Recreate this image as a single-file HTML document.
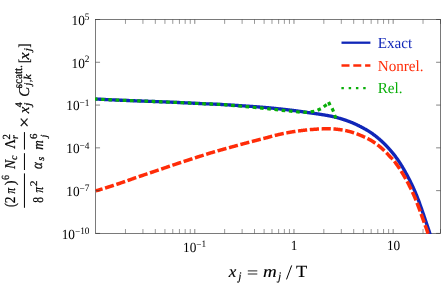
<!DOCTYPE html>
<html><head><meta charset="utf-8"><title>plot</title>
<style>html,body{margin:0;padding:0;background:#fff;}body{width:445px;height:284px;position:relative;overflow:hidden;font-family:"Liberation Serif",serif;}</style>
</head><body>
<svg width="445" height="284" viewBox="0 0 445 284" style="position:absolute;left:0;top:0;will-change:transform;text-rendering:geometricPrecision;font-family:'Liberation Serif',serif">
<defs><clipPath id="c"><rect x="95.05000000000001" y="18.9" width="346.05" height="215.11999999999998"/></clipPath></defs>
<rect x="0" y="0" width="445" height="284" fill="#fff"/>
<rect x="95.65" y="19.5" width="344.85" height="213.92" fill="none" stroke="#333" stroke-width="0.65"/>
<g clip-path="url(#c)" fill="none" stroke-linejoin="round">
<path d="M95.83 99.01 L96.04 99.02 L96.30 99.04 L96.60 99.05 L96.94 99.07 L97.32 99.09 L97.71 99.12 L98.09 99.14 L98.48 99.16 L98.86 99.18 L99.24 99.20 L99.63 99.23 L100.01 99.25 L100.40 99.27 L100.78 99.29 L101.16 99.31 L101.55 99.33 L101.93 99.35 L102.32 99.37 L102.70 99.39 L103.09 99.41 L103.47 99.43 L103.85 99.45 L104.24 99.47 L104.62 99.49 L105.01 99.51 L105.39 99.53 L105.77 99.55 L106.16 99.57 L106.54 99.59 L106.93 99.61 L107.31 99.63 L107.70 99.64 L108.08 99.66 L108.46 99.68 L108.85 99.70 L109.23 99.72 L109.62 99.74 L110.00 99.75 L110.38 99.77 L110.77 99.79 L111.15 99.81 L111.54 99.83 L111.92 99.84 L112.31 99.86 L112.69 99.88 L113.07 99.90 L113.46 99.91 L113.84 99.93 L114.23 99.95 L114.61 99.96 L114.99 99.98 L115.38 100.00 L115.76 100.01 L116.15 100.03 L116.53 100.05 L116.92 100.06 L117.30 100.08 L117.68 100.10 L118.07 100.11 L118.45 100.13 L118.84 100.15 L119.22 100.16 L119.61 100.18 L119.99 100.19 L120.37 100.21 L120.76 100.23 L121.14 100.24 L121.53 100.26 L121.91 100.27 L122.29 100.29 L122.68 100.31 L123.06 100.32 L123.45 100.34 L123.83 100.35 L124.22 100.37 L124.60 100.38 L124.98 100.40 L125.37 100.41 L125.75 100.43 L126.14 100.44 L126.52 100.46 L126.90 100.47 L127.29 100.49 L127.67 100.50 L128.06 100.52 L128.44 100.53 L128.83 100.55 L129.21 100.56 L129.59 100.58 L129.98 100.59 L130.36 100.61 L130.75 100.62 L131.13 100.64 L131.51 100.65 L131.90 100.67 L132.28 100.68 L132.67 100.70 L133.05 100.71 L133.44 100.73 L133.82 100.74 L134.20 100.75 L134.59 100.77 L134.97 100.78 L135.36 100.80 L135.74 100.81 L136.12 100.83 L136.51 100.84 L136.89 100.86 L137.28 100.87 L137.66 100.88 L138.05 100.90 L138.43 100.91 L138.81 100.93 L139.20 100.94 L139.58 100.96 L139.97 100.97 L140.35 100.98 L140.74 101.00 L141.12 101.01 L141.50 101.03 L141.89 101.04 L142.27 101.06 L142.66 101.07 L143.04 101.09 L143.42 101.10 L143.81 101.11 L144.19 101.13 L144.58 101.14 L144.96 101.16 L145.35 101.17 L145.73 101.19 L146.11 101.20 L146.50 101.21 L146.88 101.23 L147.27 101.24 L147.65 101.26 L148.03 101.27 L148.42 101.29 L148.80 101.30 L149.19 101.32 L149.57 101.33 L149.96 101.34 L150.34 101.36 L150.72 101.37 L151.11 101.39 L151.49 101.40 L151.88 101.42 L152.26 101.43 L152.64 101.45 L153.03 101.46 L153.41 101.48 L153.80 101.49 L154.18 101.50 L154.57 101.52 L154.95 101.53 L155.33 101.55 L155.72 101.56 L156.10 101.58 L156.49 101.59 L156.87 101.61 L157.25 101.62 L157.64 101.64 L158.02 101.65 L158.41 101.67 L158.79 101.68 L159.18 101.70 L159.56 101.71 L159.94 101.73 L160.33 101.74 L160.71 101.76 L161.10 101.77 L161.48 101.79 L161.87 101.80 L162.25 101.82 L162.63 101.83 L163.02 101.85 L163.40 101.87 L163.79 101.88 L164.17 101.90 L164.55 101.91 L164.94 101.93 L165.32 101.94 L165.71 101.96 L166.09 101.97 L166.48 101.99 L166.86 102.01 L167.24 102.02 L167.63 102.04 L168.01 102.05 L168.40 102.07 L168.78 102.09 L169.16 102.10 L169.55 102.12 L169.93 102.13 L170.32 102.15 L170.70 102.17 L171.09 102.18 L171.47 102.20 L171.85 102.21 L172.24 102.23 L172.62 102.25 L173.01 102.26 L173.39 102.28 L173.77 102.30 L174.16 102.31 L174.54 102.33 L174.93 102.35 L175.31 102.36 L175.70 102.38 L176.08 102.40 L176.46 102.41 L176.85 102.43 L177.23 102.45 L177.62 102.47 L178.00 102.48 L178.38 102.50 L178.77 102.52 L179.15 102.53 L179.54 102.55 L179.92 102.57 L180.31 102.59 L180.69 102.60 L181.07 102.62 L181.46 102.64 L181.84 102.66 L182.23 102.67 L182.61 102.69 L183.00 102.71 L183.38 102.73 L183.76 102.75 L184.15 102.76 L184.53 102.78 L184.92 102.80 L185.30 102.82 L185.68 102.84 L186.07 102.85 L186.45 102.87 L186.84 102.89 L187.22 102.91 L187.61 102.93 L187.99 102.95 L188.37 102.96 L188.76 102.98 L189.14 103.00 L189.53 103.02 L189.91 103.04 L190.29 103.06 L190.68 103.08 L191.06 103.10 L191.45 103.11 L191.83 103.13 L192.22 103.15 L192.60 103.17 L192.98 103.19 L193.37 103.21 L193.75 103.23 L194.14 103.25 L194.52 103.27 L194.90 103.29 L195.29 103.31 L195.67 103.33 L196.06 103.35 L196.44 103.37 L196.83 103.39 L197.21 103.41 L197.59 103.43 L197.98 103.45 L198.36 103.47 L198.75 103.49 L199.13 103.51 L199.51 103.52 L199.90 103.54 L200.28 103.56 L200.67 103.58 L201.05 103.59 L201.44 103.61 L201.82 103.63 L202.20 103.64 L202.59 103.66 L202.97 103.67 L203.36 103.69 L203.74 103.70 L204.13 103.72 L204.51 103.74 L204.89 103.75 L205.28 103.77 L205.66 103.78 L206.05 103.80 L206.43 103.82 L206.81 103.83 L207.20 103.85 L207.58 103.86 L207.97 103.88 L208.35 103.90 L208.74 103.91 L209.12 103.93 L209.50 103.95 L209.89 103.96 L210.27 103.98 L210.66 104.00 L211.04 104.01 L211.42 104.03 L211.81 104.05 L212.19 104.06 L212.58 104.08 L212.96 104.10 L213.35 104.12 L213.73 104.13 L214.11 104.15 L214.50 104.17 L214.88 104.18 L215.27 104.20 L215.65 104.22 L216.03 104.24 L216.42 104.25 L216.80 104.27 L217.19 104.29 L217.57 104.31 L217.96 104.33 L218.34 104.34 L218.72 104.36 L219.11 104.38 L219.49 104.40 L219.88 104.42 L220.26 104.43 L220.64 104.45 L221.03 104.47 L221.41 104.49 L221.80 104.51 L222.18 104.53 L222.57 104.55 L222.95 104.57 L223.33 104.60 L223.72 104.62 L224.10 104.64 L224.49 104.67 L224.87 104.69 L225.26 104.71 L225.64 104.73 L226.02 104.76 L226.41 104.78 L226.79 104.80 L227.18 104.83 L227.56 104.85 L227.94 104.87 L228.33 104.90 L228.71 104.92 L229.10 104.95 L229.48 104.97 L229.87 104.99 L230.25 105.02 L230.63 105.04 L231.02 105.06 L231.40 105.09 L231.79 105.11 L232.17 105.14 L232.55 105.16 L232.94 105.19 L233.32 105.21 L233.71 105.23 L234.09 105.26 L234.48 105.28 L234.86 105.31 L235.24 105.33 L235.63 105.36 L236.01 105.38 L236.40 105.41 L236.78 105.43 L237.16 105.46 L237.55 105.48 L237.93 105.51 L238.32 105.53 L238.70 105.56 L239.09 105.58 L239.47 105.61 L239.85 105.63 L240.24 105.66 L240.62 105.68 L241.01 105.71 L241.39 105.73 L241.77 105.76 L242.16 105.79 L242.54 105.81 L242.93 105.84 L243.31 105.86 L243.70 105.89 L244.08 105.92 L244.46 105.94 L244.85 105.97 L245.23 105.99 L245.62 106.02 L246.00 106.05 L246.39 106.07 L246.77 106.10 L247.15 106.13 L247.54 106.15 L247.92 106.18 L248.31 106.21 L248.69 106.23 L249.07 106.26 L249.46 106.29 L249.84 106.31 L250.23 106.34 L250.61 106.37 L251.00 106.39 L251.38 106.42 L251.76 106.45 L252.15 106.48 L252.53 106.50 L252.92 106.53 L253.30 106.56 L253.68 106.59 L254.07 106.62 L254.45 106.64 L254.84 106.67 L255.22 106.70 L255.61 106.73 L255.99 106.76 L256.37 106.79 L256.76 106.82 L257.14 106.85 L257.53 106.88 L257.91 106.91 L258.29 106.94 L258.68 106.96 L259.06 106.99 L259.45 107.02 L259.83 107.05 L260.22 107.09 L260.60 107.12 L260.98 107.15 L261.37 107.18 L261.75 107.21 L262.14 107.24 L262.52 107.27 L262.90 107.30 L263.29 107.33 L263.67 107.36 L264.06 107.39 L264.44 107.42 L264.83 107.45 L265.21 107.48 L265.59 107.52 L265.98 107.55 L266.36 107.58 L266.75 107.61 L267.13 107.64 L267.52 107.68 L267.90 107.71 L268.28 107.75 L268.67 107.78 L269.05 107.82 L269.44 107.86 L269.82 107.89 L270.20 107.93 L270.59 107.97 L270.97 108.01 L271.36 108.05 L271.74 108.08 L272.13 108.12 L272.51 108.16 L272.89 108.20 L273.28 108.24 L273.66 108.28 L274.05 108.32 L274.43 108.36 L274.81 108.40 L275.20 108.44 L275.58 108.47 L275.97 108.51 L276.35 108.55 L276.74 108.59 L277.12 108.63 L277.50 108.67 L277.89 108.71 L278.27 108.76 L278.66 108.80 L279.04 108.84 L279.42 108.88 L279.81 108.92 L280.19 108.96 L280.58 109.00 L280.96 109.04 L281.35 109.08 L281.73 109.13 L282.11 109.17 L282.50 109.21 L282.88 109.25 L283.27 109.30 L283.65 109.34 L284.03 109.38 L284.42 109.43 L284.80 109.47 L285.19 109.51 L285.57 109.56 L285.96 109.60 L286.34 109.64 L286.72 109.69 L287.11 109.73 L287.49 109.78 L287.88 109.82 L288.26 109.87 L288.65 109.91 L289.03 109.96 L289.41 110.00 L289.80 110.05 L290.18 110.10 L290.57 110.14 L290.95 110.19 L291.33 110.24 L291.72 110.28 L292.10 110.33 L292.49 110.38 L292.87 110.42 L293.26 110.47 L293.64 110.52 L294.02 110.57 L294.41 110.62 L294.79 110.67 L295.18 110.72 L295.56 110.77 L295.94 110.82 L296.33 110.87 L296.71 110.92 L297.10 110.97 L297.48 111.03 L297.87 111.08 L298.25 111.13 L298.63 111.19 L299.02 111.24 L299.40 111.29 L299.79 111.35 L300.17 111.40 L300.55 111.46 L300.94 111.51 L301.32 111.57 L301.71 111.62 L302.09 111.68 L302.48 111.74 L302.86 111.79 L303.24 111.85 L303.63 111.91 L304.01 111.96 L304.40 112.02 L304.78 112.08 L305.16 112.14 L305.55 112.20 L305.93 112.26 L306.32 112.32 L306.70 112.38 L307.09 112.44 L307.47 112.50 L307.85 112.56 L308.24 112.62 L308.62 112.67 L309.01 112.73 L309.39 112.78 L309.78 112.84 L310.16 112.89 L310.54 112.94 L310.93 112.99 L311.31 113.04 L311.70 113.09 L312.08 113.14 L312.46 113.19 L312.85 113.24 L313.23 113.29 L313.62 113.34 L314.00 113.39 L314.39 113.45 L314.77 113.50 L315.15 113.55 L315.54 113.61 L315.92 113.66 L316.31 113.72 L316.69 113.78 L317.07 113.83 L317.46 113.89 L317.84 113.95 L318.23 114.00 L318.61 114.06 L319.00 114.12 L319.38 114.18 L319.76 114.24 L320.15 114.30 L320.53 114.36 L320.92 114.42 L321.30 114.48 L321.68 114.54 L322.07 114.60 L322.45 114.66 L322.84 114.72 L323.22 114.78 L323.61 114.85 L323.99 114.91 L324.37 114.97 L324.76 115.04 L325.14 115.10 L325.53 115.17 L325.91 115.24 L326.29 115.30 L326.68 115.37 L327.06 115.44 L327.45 115.51 L327.83 115.58 L328.22 115.65 L328.60 115.73 L328.98 115.80 L329.37 115.87 L329.75 115.95 L330.14 116.02 L330.52 116.10 L330.91 116.17 L331.29 116.25 L331.67 116.33 L332.06 116.41 L332.44 116.49 L332.83 116.57 L333.21 116.65 L333.59 116.73 L333.98 116.82 L334.36 116.91 L334.75 117.00 L335.13 117.09 L335.52 117.19 L335.90 117.29 L336.28 117.39 L336.67 117.49 L337.05 117.59 L337.44 117.70 L337.82 117.81 L338.20 117.92 L338.59 118.02 L338.97 118.14 L339.36 118.25 L339.74 118.36 L340.13 118.47 L340.51 118.59 L340.89 118.70 L341.28 118.82 L341.66 118.94 L342.05 119.06 L342.43 119.18 L342.81 119.30 L343.20 119.42 L343.58 119.54 L343.97 119.67 L344.35 119.80 L344.74 119.93 L345.12 120.06 L345.50 120.19 L345.89 120.32 L346.27 120.46 L346.66 120.59 L347.04 120.73 L347.42 120.87 L347.81 121.01 L348.19 121.16 L348.58 121.30 L348.96 121.45 L349.35 121.59 L349.73 121.74 L350.11 121.89 L350.50 122.04 L350.88 122.20 L351.27 122.35 L351.65 122.51 L352.04 122.67 L352.42 122.83 L352.80 122.99 L353.19 123.15 L353.57 123.31 L353.96 123.48 L354.34 123.65 L354.72 123.82 L355.11 123.99 L355.49 124.16 L355.88 124.34 L356.26 124.51 L356.65 124.69 L357.03 124.87 L357.41 125.06 L357.80 125.24 L358.18 125.43 L358.57 125.62 L358.95 125.81 L359.33 126.01 L359.72 126.20 L360.10 126.40 L360.49 126.60 L360.87 126.80 L361.26 127.00 L361.64 127.21 L362.02 127.41 L362.41 127.62 L362.79 127.82 L363.18 128.03 L363.56 128.24 L363.94 128.45 L364.33 128.66 L364.71 128.87 L365.10 129.09 L365.48 129.31 L365.87 129.53 L366.25 129.75 L366.63 129.98 L367.02 130.21 L367.40 130.44 L367.79 130.67 L368.17 130.91 L368.55 131.15 L368.94 131.39 L369.32 131.63 L369.71 131.88 L370.09 132.13 L370.48 132.39 L370.86 132.65 L371.24 132.91 L371.63 133.18 L372.01 133.44 L372.40 133.72 L372.78 133.99 L373.17 134.27 L373.55 134.55 L373.93 134.83 L374.32 135.12 L374.70 135.41 L375.09 135.70 L375.47 135.99 L375.85 136.29 L376.24 136.60 L376.62 136.90 L377.01 137.21 L377.39 137.52 L377.78 137.84 L378.16 138.15 L378.54 138.48 L378.93 138.80 L379.31 139.13 L379.70 139.46 L380.08 139.80 L380.46 140.14 L380.85 140.49 L381.23 140.84 L381.62 141.19 L382.00 141.55 L382.39 141.91 L382.77 142.27 L383.15 142.64 L383.54 143.01 L383.92 143.39 L384.31 143.77 L384.69 144.15 L385.07 144.54 L385.46 144.93 L385.84 145.33 L386.23 145.73 L386.61 146.14 L387.00 146.55 L387.38 146.96 L387.76 147.38 L388.15 147.80 L388.53 148.22 L388.92 148.65 L389.30 149.08 L389.68 149.52 L390.07 149.96 L390.45 150.40 L390.80 150.79 L391.15 151.19 L391.49 151.59 L391.84 152.00 L392.19 152.41 L392.54 152.82 L392.88 153.24 L393.23 153.67 L393.58 154.10 L393.97 154.59 L394.35 155.09 L394.74 155.59 L395.13 156.10 L395.51 156.61 L395.90 157.13 L396.29 157.66 L396.67 158.19 L397.06 158.73 L397.44 159.27 L397.83 159.81 L398.21 160.37 L398.59 160.93 L398.97 161.49 L399.34 162.07 L399.72 162.64 L400.10 163.23 L400.47 163.82 L400.85 164.41 L401.22 165.02 L401.60 165.63 L401.97 166.24 L402.35 166.87 L402.72 167.50 L403.10 168.13 L403.47 168.77 L403.85 169.42 L404.22 170.08 L404.60 170.74 L404.97 171.41 L405.35 172.09 L405.73 172.78 L406.11 173.47 L406.49 174.17 L406.87 174.88 L407.26 175.59 L407.64 176.31 L408.03 177.04 L408.42 177.78 L408.81 178.53 L409.20 179.28 L409.59 180.04 L409.98 180.81 L410.37 181.59 L410.76 182.38 L411.15 183.17 L411.54 183.98 L411.93 184.79 L412.32 185.61 L412.70 186.44 L413.09 187.27 L413.47 188.12 L413.86 188.97 L414.24 189.84 L414.62 190.71 L415.00 191.59 L415.37 192.49 L415.75 193.39 L416.13 194.30 L416.50 195.22 L416.88 196.15 L417.25 197.09 L417.63 198.04 L418.00 199.00 L418.37 199.97 L418.74 200.95 L419.10 201.94 L419.47 202.94 L419.83 203.95 L420.19 204.97 L420.56 206.00 L420.92 207.05 L421.29 208.10 L421.67 209.16 L422.04 210.24 L422.42 211.33 L422.80 212.43 L423.18 213.54 L423.56 214.66 L423.95 215.79 L424.33 216.94 L424.71 218.09 L425.10 219.26 L425.50 220.44 L425.90 221.64 L426.30 222.84 L426.71 224.06 L427.13 225.29 L427.55 226.54 L427.98 227.79 L428.41 229.06 L428.83 230.35 L429.25 231.64 L429.66 232.95 L430.03 234.12 L430.35 235.15 L430.61 236.04 L430.83 236.78" stroke="#1026b8" stroke-width="3.35"/>
<path d="M95.83 190.86 L96.04 190.80 L96.30 190.72 L96.60 190.64 L96.94 190.54 L97.32 190.43 L97.71 190.32 L98.09 190.20 L98.48 190.09 L98.86 189.98 L99.24 189.87 L99.63 189.75 L100.01 189.64 L100.40 189.52 L100.78 189.41 L101.16 189.29 L101.55 189.18 L101.93 189.06 L102.32 188.94 L102.70 188.83 L103.09 188.71 L103.47 188.59 L103.85 188.47 L104.24 188.36 L104.62 188.24 L105.01 188.12 L105.39 188.00 L105.77 187.88 L106.16 187.76 L106.54 187.64 L106.93 187.52 L107.31 187.40 L107.70 187.27 L108.08 187.15 L108.46 187.03 L108.85 186.91 L109.23 186.78 L109.62 186.66 L110.00 186.54 L110.38 186.41 L110.77 186.29 L111.15 186.16 L111.54 186.04 L111.92 185.91 L112.31 185.79 L112.69 185.66 L113.07 185.54 L113.46 185.41 L113.84 185.28 L114.23 185.16 L114.61 185.03 L114.99 184.90 L115.38 184.77 L115.76 184.65 L116.15 184.52 L116.53 184.39 L116.92 184.26 L117.30 184.13 L117.68 184.00 L118.07 183.87 L118.45 183.74 L118.84 183.61 L119.22 183.48 L119.61 183.35 L119.99 183.22 L120.37 183.09 L120.76 182.96 L121.14 182.83 L121.53 182.69 L121.91 182.56 L122.29 182.43 L122.68 182.30 L123.06 182.16 L123.45 182.03 L123.83 181.90 L124.22 181.76 L124.60 181.63 L124.98 181.50 L125.37 181.36 L125.75 181.23 L126.14 181.09 L126.52 180.96 L126.90 180.82 L127.29 180.69 L127.67 180.55 L128.06 180.42 L128.44 180.28 L128.83 180.15 L129.21 180.01 L129.59 179.87 L129.98 179.74 L130.36 179.60 L130.75 179.47 L131.13 179.33 L131.51 179.19 L131.90 179.05 L132.28 178.92 L132.67 178.78 L133.05 178.64 L133.44 178.50 L133.82 178.37 L134.20 178.23 L134.59 178.09 L134.97 177.96 L135.36 177.83 L135.74 177.69 L136.12 177.56 L136.51 177.43 L136.89 177.30 L137.28 177.17 L137.66 177.04 L138.05 176.91 L138.43 176.78 L138.81 176.65 L139.20 176.52 L139.58 176.39 L139.97 176.26 L140.35 176.13 L140.74 176.00 L141.12 175.87 L141.50 175.74 L141.89 175.61 L142.27 175.48 L142.66 175.34 L143.04 175.21 L143.42 175.09 L143.81 174.96 L144.19 174.83 L144.58 174.70 L144.96 174.57 L145.35 174.44 L145.73 174.31 L146.11 174.18 L146.50 174.05 L146.88 173.93 L147.27 173.80 L147.65 173.67 L148.03 173.54 L148.42 173.41 L148.80 173.28 L149.19 173.15 L149.57 173.02 L149.96 172.89 L150.34 172.76 L150.72 172.63 L151.11 172.50 L151.49 172.37 L151.88 172.24 L152.26 172.11 L152.64 171.98 L153.03 171.85 L153.41 171.72 L153.80 171.59 L154.18 171.46 L154.57 171.33 L154.95 171.20 L155.33 171.07 L155.72 170.94 L156.10 170.81 L156.49 170.68 L156.87 170.55 L157.25 170.42 L157.64 170.29 L158.02 170.16 L158.41 170.03 L158.79 169.90 L159.18 169.77 L159.56 169.64 L159.94 169.51 L160.33 169.38 L160.71 169.25 L161.10 169.12 L161.48 168.99 L161.87 168.86 L162.25 168.73 L162.63 168.60 L163.02 168.47 L163.40 168.34 L163.79 168.21 L164.17 168.08 L164.55 167.95 L164.94 167.82 L165.32 167.69 L165.71 167.56 L166.09 167.42 L166.48 167.29 L166.86 167.16 L167.24 167.03 L167.63 166.90 L168.01 166.77 L168.40 166.64 L168.78 166.51 L169.16 166.38 L169.55 166.25 L169.93 166.12 L170.32 165.99 L170.70 165.86 L171.09 165.73 L171.47 165.60 L171.85 165.47 L172.24 165.34 L172.62 165.21 L173.01 165.08 L173.39 164.95 L173.77 164.82 L174.16 164.69 L174.54 164.56 L174.93 164.43 L175.31 164.30 L175.70 164.17 L176.08 164.04 L176.46 163.91 L176.85 163.79 L177.23 163.66 L177.62 163.53 L178.00 163.40 L178.38 163.28 L178.77 163.15 L179.15 163.03 L179.54 162.90 L179.92 162.78 L180.31 162.65 L180.69 162.53 L181.07 162.40 L181.46 162.28 L181.84 162.15 L182.23 162.03 L182.61 161.90 L183.00 161.78 L183.38 161.65 L183.76 161.53 L184.15 161.40 L184.53 161.28 L184.92 161.16 L185.30 161.03 L185.68 160.91 L186.07 160.78 L186.45 160.66 L186.84 160.54 L187.22 160.41 L187.61 160.29 L187.99 160.16 L188.37 160.04 L188.76 159.91 L189.14 159.79 L189.53 159.66 L189.91 159.53 L190.29 159.41 L190.68 159.28 L191.06 159.16 L191.45 159.03 L191.83 158.90 L192.22 158.78 L192.60 158.65 L192.98 158.53 L193.37 158.40 L193.75 158.28 L194.14 158.15 L194.52 158.03 L194.90 157.90 L195.29 157.78 L195.67 157.65 L196.06 157.53 L196.44 157.40 L196.83 157.28 L197.21 157.16 L197.59 157.03 L197.98 156.91 L198.36 156.78 L198.75 156.66 L199.13 156.54 L199.51 156.41 L199.90 156.29 L200.28 156.17 L200.67 156.04 L201.05 155.92 L201.44 155.80 L201.82 155.68 L202.20 155.55 L202.59 155.43 L202.97 155.31 L203.36 155.19 L203.74 155.06 L204.13 154.94 L204.51 154.82 L204.89 154.70 L205.28 154.58 L205.66 154.46 L206.05 154.34 L206.43 154.22 L206.81 154.10 L207.20 153.97 L207.58 153.85 L207.97 153.73 L208.35 153.61 L208.74 153.49 L209.12 153.38 L209.50 153.26 L209.89 153.14 L210.27 153.03 L210.66 152.91 L211.04 152.80 L211.42 152.68 L211.81 152.57 L212.19 152.46 L212.58 152.35 L212.96 152.23 L213.35 152.12 L213.73 152.01 L214.11 151.90 L214.50 151.79 L214.88 151.68 L215.27 151.56 L215.65 151.45 L216.03 151.34 L216.42 151.23 L216.80 151.12 L217.19 151.01 L217.57 150.90 L217.96 150.79 L218.34 150.68 L218.72 150.57 L219.11 150.46 L219.49 150.36 L219.88 150.25 L220.26 150.14 L220.64 150.03 L221.03 149.92 L221.41 149.81 L221.80 149.70 L222.18 149.60 L222.57 149.49 L222.95 149.38 L223.33 149.27 L223.72 149.16 L224.10 149.06 L224.49 148.95 L224.87 148.84 L225.26 148.73 L225.64 148.63 L226.02 148.52 L226.41 148.41 L226.79 148.31 L227.18 148.20 L227.56 148.10 L227.94 147.99 L228.33 147.88 L228.71 147.78 L229.10 147.67 L229.48 147.57 L229.87 147.46 L230.25 147.36 L230.63 147.26 L231.02 147.15 L231.40 147.05 L231.79 146.94 L232.17 146.84 L232.55 146.73 L232.94 146.63 L233.32 146.52 L233.71 146.42 L234.09 146.31 L234.48 146.20 L234.86 146.10 L235.24 145.99 L235.63 145.88 L236.01 145.77 L236.40 145.67 L236.78 145.56 L237.16 145.45 L237.55 145.35 L237.93 145.24 L238.32 145.14 L238.70 145.03 L239.09 144.93 L239.47 144.82 L239.85 144.72 L240.24 144.61 L240.62 144.51 L241.01 144.41 L241.39 144.30 L241.77 144.20 L242.16 144.09 L242.54 143.99 L242.93 143.89 L243.31 143.79 L243.70 143.68 L244.08 143.58 L244.46 143.48 L244.85 143.38 L245.23 143.27 L245.62 143.17 L246.00 143.07 L246.39 142.96 L246.77 142.86 L247.15 142.76 L247.54 142.65 L247.92 142.55 L248.31 142.45 L248.69 142.34 L249.07 142.24 L249.46 142.14 L249.84 142.04 L250.23 141.94 L250.61 141.84 L251.00 141.74 L251.38 141.63 L251.76 141.53 L252.15 141.43 L252.53 141.33 L252.92 141.23 L253.30 141.14 L253.68 141.04 L254.07 140.94 L254.45 140.84 L254.84 140.74 L255.22 140.64 L255.61 140.55 L255.99 140.45 L256.37 140.35 L256.76 140.25 L257.14 140.15 L257.53 140.05 L257.91 139.95 L258.29 139.85 L258.68 139.75 L259.06 139.65 L259.45 139.55 L259.83 139.45 L260.22 139.35 L260.60 139.25 L260.98 139.15 L261.37 139.05 L261.75 138.95 L262.14 138.85 L262.52 138.75 L262.90 138.65 L263.29 138.55 L263.67 138.46 L264.06 138.36 L264.44 138.26 L264.83 138.17 L265.21 138.07 L265.59 137.97 L265.98 137.88 L266.36 137.78 L266.75 137.68 L267.13 137.58 L267.52 137.47 L267.90 137.37 L268.28 137.26 L268.67 137.16 L269.05 137.05 L269.44 136.95 L269.82 136.84 L270.20 136.73 L270.59 136.63 L270.97 136.52 L271.36 136.42 L271.74 136.31 L272.13 136.21 L272.51 136.11 L272.89 136.00 L273.28 135.90 L273.66 135.80 L274.05 135.70 L274.43 135.60 L274.81 135.50 L275.20 135.40 L275.58 135.31 L275.97 135.21 L276.35 135.12 L276.74 135.03 L277.12 134.93 L277.50 134.84 L277.89 134.75 L278.27 134.66 L278.66 134.57 L279.04 134.48 L279.42 134.39 L279.81 134.31 L280.19 134.22 L280.58 134.13 L280.96 134.04 L281.35 133.96 L281.73 133.87 L282.11 133.79 L282.50 133.71 L282.88 133.63 L283.27 133.55 L283.65 133.47 L284.03 133.39 L284.42 133.31 L284.80 133.24 L285.19 133.16 L285.57 133.09 L285.96 133.01 L286.34 132.93 L286.72 132.86 L287.11 132.79 L287.49 132.71 L287.88 132.64 L288.26 132.57 L288.65 132.49 L289.03 132.42 L289.41 132.35 L289.80 132.28 L290.18 132.21 L290.57 132.14 L290.95 132.07 L291.33 132.01 L291.72 131.95 L292.10 131.88 L292.49 131.82 L292.87 131.76 L293.26 131.70 L293.64 131.64 L294.02 131.58 L294.41 131.53 L294.79 131.47 L295.18 131.41 L295.56 131.35 L295.94 131.30 L296.33 131.24 L296.71 131.19 L297.10 131.13 L297.48 131.08 L297.87 131.03 L298.25 130.97 L298.63 130.92 L299.02 130.87 L299.40 130.82 L299.79 130.77 L300.17 130.72 L300.55 130.67 L300.94 130.62 L301.32 130.57 L301.71 130.52 L302.09 130.47 L302.48 130.43 L302.86 130.38 L303.24 130.34 L303.63 130.29 L304.01 130.25 L304.40 130.20 L304.78 130.16 L305.16 130.12 L305.55 130.08 L305.93 130.04 L306.32 130.00 L306.70 129.96 L307.09 129.92 L307.47 129.88 L307.85 129.84 L308.24 129.81 L308.62 129.77 L309.01 129.73 L309.39 129.70 L309.78 129.67 L310.16 129.63 L310.54 129.60 L310.93 129.57 L311.31 129.54 L311.70 129.51 L312.08 129.47 L312.46 129.44 L312.85 129.41 L313.23 129.38 L313.62 129.36 L314.00 129.33 L314.39 129.30 L314.77 129.27 L315.15 129.24 L315.54 129.21 L315.92 129.19 L316.31 129.16 L316.69 129.14 L317.07 129.11 L317.46 129.09 L317.84 129.07 L318.23 129.05 L318.61 129.03 L319.00 129.01 L319.38 128.99 L319.76 128.97 L320.15 128.95 L320.53 128.94 L320.92 128.92 L321.30 128.91 L321.68 128.90 L322.07 128.88 L322.45 128.87 L322.84 128.86 L323.22 128.85 L323.61 128.84 L323.99 128.83 L324.37 128.83 L324.76 128.82 L325.14 128.82 L325.53 128.81 L325.91 128.81 L326.29 128.81 L326.68 128.81 L327.06 128.81 L327.45 128.81 L327.83 128.81 L328.22 128.81 L328.60 128.82 L328.98 128.82 L329.37 128.83 L329.75 128.84 L330.14 128.85 L330.52 128.86 L330.91 128.87 L331.29 128.88 L331.67 128.89 L332.06 128.91 L332.44 128.92 L332.83 128.94 L333.21 128.96 L333.59 128.98 L333.98 129.00 L334.36 129.03 L334.75 129.05 L335.13 129.08 L335.52 129.11 L335.90 129.15 L336.28 129.19 L336.67 129.23 L337.05 129.27 L337.44 129.31 L337.82 129.36 L338.20 129.40 L338.59 129.45 L338.97 129.50 L339.36 129.55 L339.74 129.60 L340.13 129.65 L340.51 129.71 L340.89 129.76 L341.28 129.82 L341.66 129.88 L342.05 129.94 L342.43 130.00 L342.81 130.06 L343.20 130.13 L343.58 130.19 L343.97 130.26 L344.35 130.33 L344.74 130.40 L345.12 130.48 L345.50 130.56 L345.89 130.64 L346.27 130.72 L346.66 130.81 L347.04 130.90 L347.42 130.99 L347.81 131.09 L348.19 131.18 L348.58 131.28 L348.96 131.38 L349.35 131.48 L349.73 131.58 L350.11 131.69 L350.50 131.80 L350.88 131.91 L351.27 132.02 L351.65 132.13 L352.04 132.24 L352.42 132.36 L352.80 132.48 L353.19 132.60 L353.57 132.72 L353.96 132.85 L354.34 132.97 L354.72 133.10 L355.11 133.23 L355.49 133.37 L355.88 133.50 L356.26 133.64 L356.65 133.78 L357.03 133.93 L357.41 134.07 L357.80 134.22 L358.18 134.37 L358.57 134.53 L358.95 134.68 L359.33 134.84 L359.72 135.00 L360.10 135.16 L360.49 135.33 L360.87 135.49 L361.26 135.66 L361.64 135.82 L362.02 135.99 L362.41 136.15 L362.79 136.32 L363.18 136.48 L363.56 136.65 L363.94 136.81 L364.33 136.98 L364.71 137.15 L365.10 137.33 L365.48 137.50 L365.87 137.68 L366.25 137.87 L366.63 138.05 L367.02 138.24 L367.40 138.43 L367.79 138.63 L368.17 138.82 L368.55 139.02 L368.94 139.23 L369.32 139.44 L369.71 139.65 L370.09 139.87 L370.48 140.09 L370.86 140.32 L371.24 140.55 L371.63 140.78 L372.01 141.02 L372.40 141.27 L372.78 141.51 L373.17 141.76 L373.55 142.02 L373.93 142.27 L374.32 142.53 L374.70 142.80 L375.09 143.06 L375.47 143.34 L375.85 143.61 L376.24 143.89 L376.62 144.17 L377.01 144.46 L377.39 144.75 L377.78 145.04 L378.16 145.34 L378.54 145.64 L378.93 145.94 L379.31 146.25 L379.70 146.57 L380.08 146.89 L380.46 147.21 L380.85 147.54 L381.23 147.87 L381.62 148.20 L382.00 148.54 L382.39 148.89 L382.77 149.24 L383.15 149.59 L383.54 149.95 L383.92 150.31 L384.31 150.67 L384.69 151.05 L385.07 151.42 L385.46 151.80 L385.84 152.19 L386.23 152.58 L386.61 152.97 L387.00 153.37 L387.38 153.77 L387.76 154.18 L388.15 154.59 L388.53 155.01 L388.92 155.42 L389.30 155.84 L389.68 156.27 L390.07 156.70 L390.45 157.13 L390.71 157.34 L390.97 157.57 L391.22 157.79 L391.48 158.02 L391.74 158.26 L392.01 158.50 L392.27 158.75 L392.53 159.01 L392.79 159.27 L393.18 159.75 L393.58 160.25 L393.97 160.75 L394.36 161.25 L394.74 161.77 L395.13 162.29 L395.52 162.81 L395.91 163.34 L396.30 163.88 L396.68 164.42 L397.07 164.97 L397.46 165.53 L397.85 166.09 L398.24 166.66 L398.63 167.24 L399.01 167.82 L399.40 168.41 L399.79 169.01 L400.18 169.61 L400.57 170.22 L400.96 170.84 L401.34 171.47 L401.73 172.10 L402.13 172.74 L402.52 173.39 L402.91 174.04 L403.31 174.71 L403.70 175.38 L404.10 176.05 L404.50 176.74 L404.89 177.43 L405.29 178.14 L405.69 178.84 L406.09 179.56 L406.49 180.29 L406.89 181.02 L407.29 181.77 L407.69 182.52 L408.09 183.28 L408.49 184.04 L408.89 184.82 L409.29 185.61 L409.70 186.40 L410.10 187.20 L410.50 188.02 L410.89 188.84 L411.29 189.67 L411.69 190.51 L412.09 191.36 L412.49 192.22 L412.89 193.08 L413.29 193.96 L413.69 194.85 L414.09 195.75 L414.48 196.65 L414.88 197.57 L415.27 198.50 L415.66 199.44 L416.05 200.39 L416.43 201.34 L416.81 202.31 L417.19 203.29 L417.57 204.28 L417.94 205.28 L418.32 206.30 L418.70 207.32 L419.08 208.35 L419.47 209.40 L419.85 210.46 L420.25 211.53 L420.64 212.61 L421.04 213.70 L421.44 214.80 L421.84 215.92 L422.24 217.05 L422.64 218.19 L423.05 219.34 L423.46 220.50 L423.88 221.68 L424.30 222.87 L424.73 224.07 L425.17 225.29 L425.62 226.52 L426.07 227.76 L426.52 229.01 L426.96 230.28 L427.40 231.56 L427.83 232.86 L428.20 234.02 L428.53 235.03 L428.80 235.91 L429.03 236.65" stroke="#ff2c08" stroke-width="3.5" stroke-dasharray="9.2 2.65" stroke-dashoffset="2.2"/>
<path d="M93.90 98.96 L97.50 99.05 M101.12 99.31 L104.72 99.50 M108.35 99.68 L111.94 99.85 M115.57 100.01 L119.16 100.16 M122.79 100.31 L126.39 100.45 M130.01 100.60 L133.61 100.73 M137.23 100.87 L140.83 101.00 M144.46 101.14 L148.05 101.27 M151.68 101.41 L155.27 101.55 M158.90 101.69 L162.50 101.83 M166.12 101.98 L169.72 102.12 M173.34 102.28 L176.94 102.43 M180.57 102.60 L184.16 102.76 M187.79 102.94 L191.38 103.11 M195.01 103.29 L198.61 103.48 M202.23 103.64 L205.83 103.79 M209.45 103.94 L213.05 104.10 M216.68 104.27 L220.27 104.43 M223.90 104.60 L227.49 104.93 M231.13 105.31 L234.71 105.65 M238.35 105.95 L241.93 106.26 M245.57 106.59 L249.15 106.91 M252.79 107.24 L256.38 107.59 M260.02 107.96 L263.60 108.33 M267.24 108.72 L270.82 109.11 M274.46 109.50 L278.04 109.89 M281.68 110.34 L285.26 110.67 M288.90 110.98 L292.49 111.32 M296.12 111.75 L299.71 112.03 M303.35 112.05 L306.93 112.42 M310.73 111.90 L314.27 111.20 M317.58 110.28 L320.82 108.72 M323.71 106.71 L326.69 104.69 M328.55 101.97 L330.05 105.23 M332.08 108.25 L333.52 111.55 M334.57 115.01 L335.83 118.39" stroke="#08ae08" stroke-width="3.2"/>
</g>
<g fill="none"><path d="M125.46 233.42 v-4.4 M125.46 19.5 v4.4" stroke="#333" stroke-width="0.5"/><path d="M142.93 233.42 v-4.4 M142.93 19.5 v4.4" stroke="#333" stroke-width="0.5"/><path d="M155.32 233.42 v-4.4 M155.32 19.5 v4.4" stroke="#333" stroke-width="0.5"/><path d="M164.93 233.42 v-4.4 M164.93 19.5 v4.4" stroke="#333" stroke-width="0.5"/><path d="M172.78 233.42 v-4.4 M172.78 19.5 v4.4" stroke="#333" stroke-width="0.5"/><path d="M179.43 233.42 v-4.4 M179.43 19.5 v4.4" stroke="#333" stroke-width="0.5"/><path d="M185.18 233.42 v-4.4 M185.18 19.5 v4.4" stroke="#333" stroke-width="0.5"/><path d="M190.25 233.42 v-4.4 M190.25 19.5 v4.4" stroke="#333" stroke-width="0.5"/><path d="M194.79 233.42 v-4.4 M194.79 19.5 v4.4" stroke="#333" stroke-width="0.6"/><path d="M224.65 233.42 v-4.4 M224.65 19.5 v4.4" stroke="#333" stroke-width="0.5"/><path d="M242.12 233.42 v-4.4 M242.12 19.5 v4.4" stroke="#333" stroke-width="0.5"/><path d="M254.51 233.42 v-4.4 M254.51 19.5 v4.4" stroke="#333" stroke-width="0.5"/><path d="M264.12 233.42 v-4.4 M264.12 19.5 v4.4" stroke="#333" stroke-width="0.5"/><path d="M271.97 233.42 v-4.4 M271.97 19.5 v4.4" stroke="#333" stroke-width="0.5"/><path d="M278.62 233.42 v-4.4 M278.62 19.5 v4.4" stroke="#333" stroke-width="0.5"/><path d="M284.37 233.42 v-4.4 M284.37 19.5 v4.4" stroke="#333" stroke-width="0.5"/><path d="M289.44 233.42 v-4.4 M289.44 19.5 v4.4" stroke="#333" stroke-width="0.5"/><path d="M293.98 233.42 v-4.4 M293.98 19.5 v4.4" stroke="#333" stroke-width="0.6"/><path d="M323.84 233.42 v-4.4 M323.84 19.5 v4.4" stroke="#333" stroke-width="0.5"/><path d="M341.31 233.42 v-4.4 M341.31 19.5 v4.4" stroke="#333" stroke-width="0.5"/><path d="M353.70 233.42 v-4.4 M353.70 19.5 v4.4" stroke="#333" stroke-width="0.5"/><path d="M363.31 233.42 v-4.4 M363.31 19.5 v4.4" stroke="#333" stroke-width="0.5"/><path d="M371.16 233.42 v-4.4 M371.16 19.5 v4.4" stroke="#333" stroke-width="0.5"/><path d="M377.81 233.42 v-4.4 M377.81 19.5 v4.4" stroke="#333" stroke-width="0.5"/><path d="M383.56 233.42 v-4.4 M383.56 19.5 v4.4" stroke="#333" stroke-width="0.5"/><path d="M388.63 233.42 v-4.4 M388.63 19.5 v4.4" stroke="#333" stroke-width="0.5"/><path d="M393.17 233.42 v-4.4 M393.17 19.5 v4.4" stroke="#333" stroke-width="0.6"/><path d="M423.03 233.42 v-4.4 M423.03 19.5 v4.4" stroke="#333" stroke-width="0.5"/><path d="M440.50 233.42 v-4.4 M440.50 19.5 v4.4" stroke="#333" stroke-width="0.5"/><path d="M95.65 19.50 h4.4 M440.5 19.50 h-4.4" stroke="#333" stroke-width="0.6"/><path d="M95.65 62.28 h4.4 M440.5 62.28 h-4.4" stroke="#333" stroke-width="0.6"/><path d="M95.65 105.07 h4.4 M440.5 105.07 h-4.4" stroke="#333" stroke-width="0.6"/><path d="M95.65 147.85 h4.4 M440.5 147.85 h-4.4" stroke="#333" stroke-width="0.6"/><path d="M95.65 190.64 h4.4 M440.5 190.64 h-4.4" stroke="#333" stroke-width="0.6"/><path d="M95.65 233.42 h4.4 M440.5 233.42 h-4.4" stroke="#333" stroke-width="0.6"/></g>
<text transform="translate(89.50,24.90) scale(0.95,1)" text-anchor="end" font-size="14" fill="#000">10<tspan font-size="9.8" dy="-5.2">5</tspan></text>
<text transform="translate(89.50,67.68) scale(0.95,1)" text-anchor="end" font-size="14" fill="#000">10<tspan font-size="9.8" dy="-5.2">2</tspan></text>
<text transform="translate(89.50,110.47) scale(0.95,1)" text-anchor="end" font-size="14" fill="#000">10<tspan font-size="9.8" dy="-4.0">−</tspan><tspan font-size="9.8" dy="-0.7">1</tspan></text>
<text transform="translate(89.50,153.25) scale(0.95,1)" text-anchor="end" font-size="14" fill="#000">10<tspan font-size="9.8" dy="-4.0">−</tspan><tspan font-size="9.8" dy="-0.7">4</tspan></text>
<text transform="translate(89.50,196.04) scale(0.95,1)" text-anchor="end" font-size="14" fill="#000">10<tspan font-size="9.8" dy="-4.0">−</tspan><tspan font-size="9.8" dy="-0.7">7</tspan></text>
<text transform="translate(89.50,238.82) scale(0.95,1)" text-anchor="end" font-size="14" fill="#000">10<tspan font-size="9.8" dy="-4.0">−</tspan><tspan font-size="9.8" dy="-0.7">10</tspan></text>
<text transform="translate(194.60,251.80) scale(0.95,1)" text-anchor="middle" font-size="14" fill="#000">10<tspan font-size="9.8" dy="-4.0">−</tspan><tspan font-size="9.8" dy="-0.7">1</tspan></text>
<text transform="translate(293.98,250.20) scale(0.95,1)" text-anchor="middle" font-size="14" fill="#000">1</text>
<text transform="translate(393.57,250.20) scale(0.95,1)" text-anchor="middle" font-size="14" fill="#000">10</text>
<path d="M341.5 42.7 H370.4" stroke="#1026b8" stroke-width="2.3" fill="none"/>
<path d="M341.5 65.5 H370.4" stroke="#ff2c08" stroke-width="2.35" stroke-dasharray="8.0 3.8" fill="none"/>
<path d="M341.4 88.1 H370.4" stroke="#08ae08" stroke-width="2.45" stroke-dasharray="2.45 4.82" fill="none"/>
<text transform="translate(377.7,47.6) scale(0.985,1)" font-size="15.4" fill="#1026b8">Exact</text>
<text transform="translate(377.7,70.7) scale(0.985,1)" font-size="15.4" fill="#ff2c08">Nonrel.</text>
<text transform="translate(377.7,93.2) scale(0.985,1)" font-size="15.4" fill="#08ae08">Rel.</text>
<text transform="translate(228.8,277) scale(1.0,1)" font-size="17" font-style="italic" stroke="#000" stroke-width="0.15">x</text>
<text transform="translate(238.2,279.7) scale(1,1)" font-size="11.5" font-style="italic" stroke="#000" stroke-width="0.15">j</text>
<path d="M247.8 270.9 H257.3 M247.8 274.0 H257.3" stroke="#000" stroke-width="0.85" fill="none"/>
<text transform="translate(262.9,277) scale(1.12,1)" font-size="17" font-style="italic" stroke="#000" stroke-width="0.15">m</text>
<text transform="translate(278.1,279.6) scale(1,1)" font-size="11.5" font-style="italic" stroke="#000" stroke-width="0.15">j</text>
<path d="M286.5 279.4 L291.7 265.4" stroke="#000" stroke-width="1" fill="none"/>
<text transform="translate(296.0,277) scale(1.08,1)" font-size="17" stroke="#000" stroke-width="0.15">T</text>
<g transform="translate(0,207) rotate(-90)" stroke="#000" stroke-width="0.22">
<text transform="translate(0.05,15.2) scale(0.753,1)" font-size="15.0" fill="#000">(</text>
<text transform="translate(3.66,15.2) scale(0.898,1)" font-size="15.0" fill="#000">2</text>
<text transform="translate(13.39,15.2) scale(0.733,1)" font-size="15.0" font-style="italic" fill="#000">π</text>
<text transform="translate(21.45,15.2) scale(1.038,1)" font-size="15.0" fill="#000">)</text>
<text transform="translate(27.03,8.8) scale(0.910,1)" font-size="10.8" fill="#000">6</text>
<text transform="translate(37.95,15.2) scale(0.916,1)" font-size="15.0" font-style="italic" fill="#000">N</text>
<text transform="translate(47.04,16.9) scale(0.994,1)" font-size="10" font-style="italic" fill="#000">c</text>
<text transform="translate(58.32,15.2) scale(0.889,1)" font-size="15.0" fill="#000">Λ</text>
<text transform="translate(67.96,18.2) scale(0.967,1)" font-size="10" font-style="italic" fill="#000">r</text>
<text transform="translate(67.47,9.5) scale(1.016,1)" font-size="10.8" fill="#000">2</text>
<path d="M-0.8 24.45 H33.6 M37 24.45 H53.8 M57.4 24.45 H74.9" stroke="#000" stroke-width="1" fill="none"/>
<text transform="translate(4.31,43.0) scale(0.771,1)" font-size="15.0" fill="#000">8</text>
<text transform="translate(14.59,43.0) scale(0.733,1)" font-size="15.0" font-style="italic" fill="#000">π</text>
<text transform="translate(20.85,37.2) scale(1.147,1)" font-size="10" fill="#000">2</text>
<text transform="translate(37.97,42.2) scale(0.838,1)" font-size="15.4" font-style="italic" fill="#000">α</text>
<text transform="translate(46.13,43.8) scale(1.010,1)" font-size="10" font-style="italic" fill="#000">s</text>
<text transform="translate(57.17,43.0) scale(0.880,1)" font-size="15.0" font-style="italic" fill="#000">m</text>
<text transform="translate(69.48,47.2) scale(1.122,1)" font-size="9.4" font-style="italic" fill="#000">j</text>
<text transform="translate(67.89,36.5) scale(1.016,1)" font-size="10.6" fill="#000">6</text>
<text transform="translate(79.23,30.2) scale(1.090,1)" font-size="17.6" fill="#000">×</text>
<text transform="translate(93.63,28.5) scale(0.981,1)" font-size="15.0" font-style="italic" fill="#000">x</text>
<text transform="translate(99.76,22) scale(0.990,1)" font-size="10" fill="#000">4</text>
<text transform="translate(101.09,31.4) scale(1.249,1)" font-size="10" font-style="italic" fill="#000">j</text>
<text transform="translate(110.23,28.5) scale(0.978,1)" font-size="15.0" font-style="italic" fill="#000">C</text>
<text transform="translate(118.8,22) scale(0.92,1)" font-size="12">scatt.</text>
<text transform="translate(121.55,31.3) scale(1.027,1)" font-size="10" font-style="italic" fill="#000">j</text>
<text transform="translate(124.97,30.8) scale(0.813,1)" font-size="10.4" font-style="italic" fill="#000">,</text>
<text transform="translate(127.61,30.5) scale(1.141,1)" font-size="10.4" font-style="italic" fill="#000">k</text>
<text transform="translate(143.75,28.5) scale(0.898,1)" font-size="15.0" fill="#000">[</text>
<text transform="translate(147.44,28.5) scale(1.055,1)" font-size="15.0" font-style="italic" fill="#000">x</text>
<text transform="translate(155.70,31.0) scale(1.143,1)" font-size="10.2" font-style="italic" fill="#000">j</text>
<text transform="translate(159.18,28.5) scale(0.868,1)" font-size="15.0" fill="#000">]</text>
</g>
</svg>
</body></html>
